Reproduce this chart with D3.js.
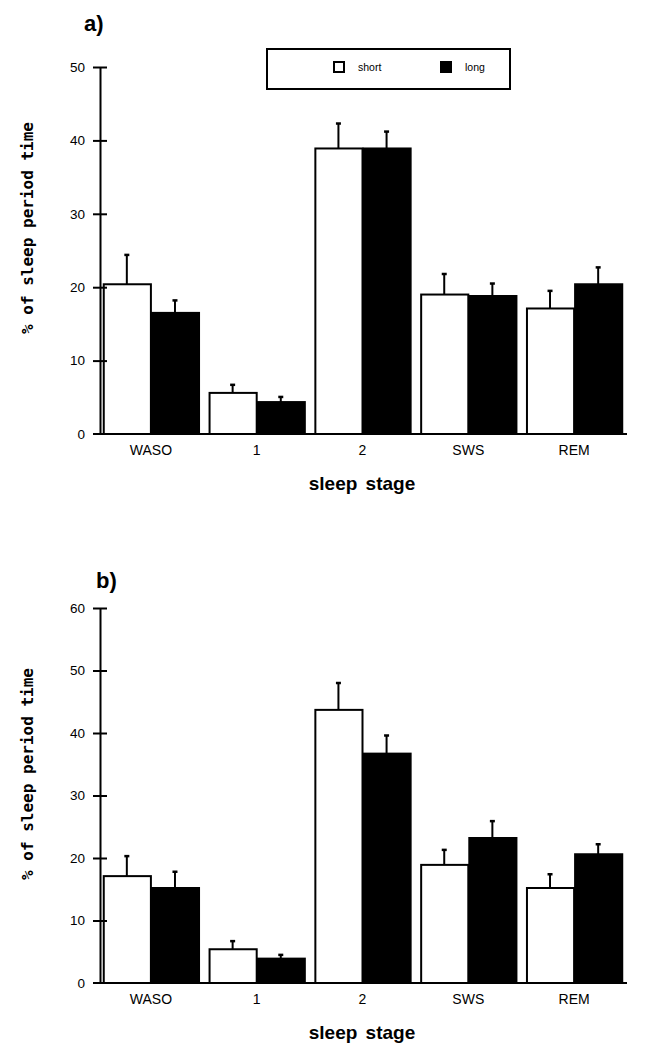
<!DOCTYPE html>
<html><head><meta charset="utf-8">
<script src="https://cdn.jsdelivr.net/npm/d3@7/dist/d3.min.js"></script>
<style>body{margin:0;background:#fff}svg{display:block}</style>
</head><body>
<svg id="chart" width="649" height="1050"></svg>
<script>
const categories = ["WASO", "1", "2", "SWS", "REM"];
const seriesNames = ["short", "long"];
// panel a
const aShort = [20.4, 5.6, 38.9, 19.0, 17.1];
const aShortErr = [4.0, 1.1, 3.4, 2.8, 2.4];
const aLong = [16.5, 4.35, 38.9, 18.8, 20.4];
const aLongErr = [1.7, 0.7, 2.3, 1.7, 2.3];
const aTicks = [0, 10, 20, 30, 40, 50];
// panel b
const bShort = [17.1, 5.4, 43.7, 18.9, 15.2];
const bShortErr = [3.2, 1.3, 4.3, 2.4, 2.2];
const bLong = [15.2, 3.9, 36.7, 23.2, 20.6];
const bLongErr = [2.6, 0.6, 2.9, 2.7, 1.6];
const bTicks = [0, 10, 20, 30, 40, 50, 60];

const yTitle = "% of sleep period time";
const xTitle = "sleep stage";

const svg = d3.select("#chart");

function panel(opt) {
  const g = svg.append("g");
  const y = d3.scaleLinear().domain([0, opt.max]).range([opt.y0, opt.yTop]);
  const x = d3.scaleBand().domain(categories).range([98, 627]).paddingInner(0.09).paddingOuter(0.045);
  const xs = d3.scaleBand().domain(seriesNames).range([0, x.bandwidth()]);

  // bars
  const rows = categories.map((c, i) => ({c, vals: [
    {s: "short", v: opt.short[i], e: opt.shortErr[i]},
    {s: "long", v: opt.long[i], e: opt.longErr[i]}]}));
  const grp = g.selectAll("g.cat").data(rows).join("g")
    .attr("transform", d => `translate(${x(d.c)},0)`);
  grp.selectAll("line.err").data(d => d.vals).join("line")
    .attr("x1", d => xs(d.s) + xs.bandwidth() / 2)
    .attr("x2", d => xs(d.s) + xs.bandwidth() / 2)
    .attr("y1", d => y(d.v)).attr("y2", d => y(d.v + d.e))
    .attr("stroke", "#000").attr("stroke-width", 2);
  grp.selectAll("line.cap").data(d => d.vals).join("line")
    .attr("x1", d => xs(d.s) + xs.bandwidth() / 2 - 2.5)
    .attr("x2", d => xs(d.s) + xs.bandwidth() / 2 + 2.5)
    .attr("y1", d => y(d.v + d.e)).attr("y2", d => y(d.v + d.e))
    .attr("stroke", "#000").attr("stroke-width", 2.5);
  grp.selectAll("rect").data(d => d.vals).join("rect")
    .attr("x", d => xs(d.s) + 1).attr("width", xs.bandwidth() - 1)
    .attr("y", d => y(d.v)).attr("height", d => y(0) - y(d.v))
    .attr("fill", d => d.s === "short" ? "#fff" : "#000")
    .attr("stroke", "#000").attr("stroke-width", 2);

  // y axis
  const ya = g.append("g").attr("transform", "translate(100,0)")
    .call(d3.axisLeft(y).tickValues(opt.ticks).tickSize(7).tickSizeOuter(0).tickPadding(8));
  ya.select(".domain").attr("stroke-width", 2);
  ya.selectAll(".tick line").attr("x1", -7).attr("x2", 7).attr("stroke-width", 2);
  ya.selectAll(".tick text").attr("font-family", "Arial, 'Liberation Sans', sans-serif")
    .attr("font-size", 13.5).attr("fill", "#000");
  ya.selectAll(".tick").filter(d => d === 0).select("line").remove();

  // x axis
  g.append("line").attr("x1", 93).attr("x2", 627).attr("y1", y(0)).attr("y2", y(0))
    .attr("stroke", "#000").attr("stroke-width", 2);
  const xa = g.append("g").attr("transform", `translate(0,${y(0)})`)
    .call(d3.axisBottom(x).tickSize(0).tickPadding(11));
  xa.select(".domain").remove();
  xa.selectAll(".tick text").attr("font-family", "Arial, 'Liberation Sans', sans-serif")
    .attr("font-size", 14).attr("fill", "#000");

  // titles
  g.append("text").attr("x", 362).attr("y", y(0) + 56).attr("text-anchor", "middle")
    .attr("font-family", "Arial, 'Liberation Sans', sans-serif").attr("font-weight", "bold")
    .attr("font-size", 19).attr("word-spacing", 3).text(xTitle);
  g.append("text").attr("transform", `translate(33,${opt.titleMid}) rotate(-90)`)
    .attr("text-anchor", "middle")
    .attr("font-family", "'DejaVu Sans Mono', monospace").attr("font-weight", "bold")
    .attr("font-size", 16).text(yTitle);
  g.append("text").attr("x", opt.labelX).attr("y", opt.labelY)
    .attr("font-family", "Arial, 'Liberation Sans', sans-serif").attr("font-weight", "bold")
    .attr("font-size", 22).text(opt.label);
}

panel({max: 50, y0: 434, yTop: 67, short: aShort, shortErr: aShortErr, long: aLong, longErr: aLongErr,
  ticks: aTicks, titleMid: 228, label: "a)", labelX: 84, labelY: 31});
panel({max: 60, y0: 983, yTop: 608, short: bShort, shortErr: bShortErr, long: bLong, longErr: bLongErr,
  ticks: bTicks, titleMid: 774, label: "b)", labelX: 96, labelY: 588});

// legend (panel a)
const leg = svg.append("g");
leg.append("rect").attr("x", 267).attr("y", 49).attr("width", 243).attr("height", 40)
  .attr("fill", "#fff").attr("stroke", "#000").attr("stroke-width", 2);
const legX = d3.scalePoint().domain(seriesNames).range([334, 441]);
const li = leg.selectAll("g.li").data(seriesNames).join("g")
  .attr("transform", d => `translate(${legX(d)},62)`);
li.append("rect").attr("width", 10).attr("height", 10)
  .attr("fill", d => d === "short" ? "#fff" : "#000").attr("stroke", "#000").attr("stroke-width", 2);
li.append("text").attr("x", 24).attr("y", 9).attr("font-family", "Arial, 'Liberation Sans', sans-serif")
  .attr("font-size", 10.5).text(d => d);
</script>
</body></html>
